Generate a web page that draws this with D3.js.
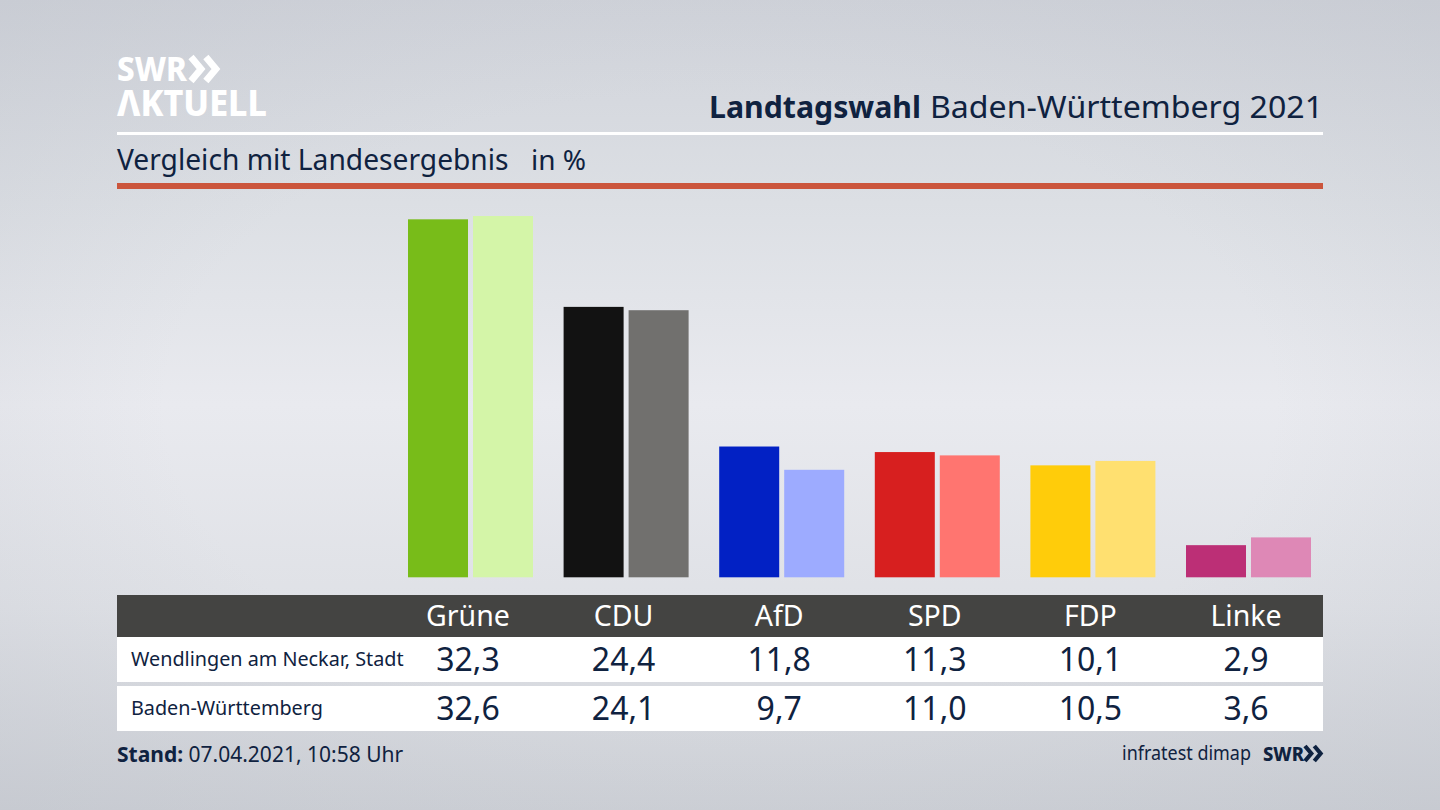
<!DOCTYPE html>
<html lang="de">
<head>
<meta charset="utf-8">
<title>Landtagswahl Baden-Württemberg 2021</title>
<script src="https://cdn.jsdelivr.net/npm/d3@7/dist/d3.min.js"></script>
<style>
  html, body { margin: 0; padding: 0; background: #d5d8de; }
  svg { display: block; }
  text { font-family: "Noto Sans", sans-serif; fill: #0f2240; }
</style>
</head>
<body>
<svg id="chart" width="1440" height="810"></svg>
<script>
// DATA
const parties = ["Grüne", "CDU", "AfD", "SPD", "FDP", "Linke"];
const localValues = [32.3, 24.4, 11.8, 11.3, 10.1, 2.9];
const stateValues = [32.6, 24.1, 9.7, 11.0, 10.5, 3.6];
const localColors = ["#78bc19", "#121212", "#0221c4", "#d71f1f", "#ffcc0a", "#bc2f76"];
const stateColors = ["#d4f5a8", "#71706e", "#9dabff", "#ff7570", "#ffe070", "#de88b6"];
const rowLabels = ["Wendlingen am Neckar, Stadt", "Baden-Württemberg"];

const fmt = v => v.toFixed(1).replace(".", ",");
const svg = d3.select("#chart");
const defs = svg.append("defs");

//---BACKGROUND
const bg = defs.append("linearGradient").attr("id", "bg").attr("x1", 0).attr("y1", 0).attr("x2", 0).attr("y2", 1);
bg.append("stop").attr("offset", "0%").attr("stop-color", "#d0d3da");
bg.append("stop").attr("offset", "25%").attr("stop-color", "#dcdfe4");
bg.append("stop").attr("offset", "50%").attr("stop-color", "#e9eaef");
bg.append("stop").attr("offset", "75%").attr("stop-color", "#dfe1e6");
bg.append("stop").attr("offset", "100%").attr("stop-color", "#cdd0d6");
svg.append("rect").attr("width", 1440).attr("height", 810).attr("fill", "url(#bg)");

// edges of the picture are a little darker than the middle
const vignette = defs.append("radialGradient").attr("id", "vignette").attr("cx", "50%").attr("cy", "50%").attr("r", "70%");
vignette.append("stop").attr("offset", "55%").attr("stop-color", "#b9bdc6").attr("stop-opacity", 0);
vignette.append("stop").attr("offset", "100%").attr("stop-color", "#b9bdc6").attr("stop-opacity", 0.3);
svg.append("rect").attr("width", 1440).attr("height", 810).attr("fill", "url(#vignette)");

//---HEADER
svg.append("text").attr("x", 117).attr("y", 81)
    .attr("font-size", 33).attr("font-weight", 800).style("fill", "#fff").attr("textLength", 70)
    .attr("lengthAdjust", "spacingAndGlyphs").text("SWR");
svg.append("text").attr("x", 117).attr("y", 116)
    .attr("font-size", 35).attr("font-weight", 800).style("fill", "#fff").attr("textLength", 150)
    .attr("lengthAdjust", "spacingAndGlyphs").text("ΛKTUELL");

function chevrons(x, y, s, color) {
    [0, 0.62].forEach(k => {
        svg.append("path")
            .attr("d", `M${x + k * s},${y} l${s * 0.42},${s * 0.5} l${-s * 0.42},${s * 0.5}`)
            .attr("fill", "none").attr("stroke", color).attr("stroke-width", s * 0.28);
    });
}
chevrons(191, 57, 24, "#fff");

svg.append("text").attr("x", 709).attr("y", 118).attr("font-size", 31).attr("font-weight", 700)
    .attr("textLength", 212).attr("lengthAdjust", "spacingAndGlyphs").text("Landtagswahl");
svg.append("text").attr("x", 930).attr("y", 118).attr("font-size", 31)
    .attr("textLength", 393).attr("lengthAdjust", "spacingAndGlyphs").text("Baden-Württemberg 2021");
svg.append("rect").attr("x", 117).attr("y", 132).attr("width", 1206).attr("height", 3).attr("fill", "#fff");
svg.append("text").attr("x", 117).attr("y", 170).attr("font-size", 28.2).text("Vergleich mit Landesergebnis");
svg.append("text").attr("x", 531).attr("y", 170).attr("font-size", 28).text("in %");
svg.append("rect").attr("x", 117).attr("y", 183).attr("width", 1206).attr("height", 6).attr("fill", "#cb553c");

//---BARS
const x = d3.scaleBand().domain(parties).range([390.2, 1323.8]).padding(0);
const y = d3.scaleLinear().domain([0, 32.6]).range([577.3, 216]);
const barWidth = 60;
const cx = p => x(p) + x.bandwidth() / 2;

const groups = svg.append("g").selectAll("g").data(parties).join("g");
groups.append("rect")
    .attr("x", p => cx(p) - barWidth)
    .attr("y", (p, i) => y(localValues[i]))
    .attr("width", barWidth)
    .attr("height", (p, i) => y(0) - y(localValues[i]))
    .attr("fill", (p, i) => localColors[i]);
groups.append("rect")
    .attr("x", p => cx(p) + 5)
    .attr("y", (p, i) => y(stateValues[i]))
    .attr("width", barWidth)
    .attr("height", (p, i) => y(0) - y(stateValues[i]))
    .attr("fill", (p, i) => stateColors[i]);

//---TABLE
svg.append("rect").attr("x", 117).attr("y", 595).attr("width", 1206).attr("height", 42).attr("fill", "#444442");
svg.append("rect").attr("x", 117).attr("y", 637).attr("width", 1206).attr("height", 45).attr("fill", "#fff");
svg.append("rect").attr("x", 117).attr("y", 686).attr("width", 1206).attr("height", 45).attr("fill", "#fff");

svg.append("g").selectAll("text").data(parties).join("text")
    .attr("x", cx).attr("y", 626).attr("text-anchor", "middle").attr("font-size", 28.5)
    .style("fill", "#fff").text(d => d);

[localValues, stateValues].forEach((vals, r) => {
    const rowY = [671, 720][r];
    svg.append("text").attr("x", 131).attr("y", rowY - 5).attr("font-size", 19.8).text(rowLabels[r]);
    svg.append("g").selectAll("text").data(vals).join("text")
        .attr("x", (d, i) => cx(parties[i])).attr("y", rowY).attr("text-anchor", "middle")
        .attr("font-size", 32).text(fmt);
});

//---FOOTER
svg.append("text").attr("x", 117).attr("y", 762).attr("font-size", 21)
    .call(t => t.append("tspan").attr("font-weight", 700).text("Stand:"))
    .call(t => t.append("tspan").text(" 07.04.2021, 10:58 Uhr"));
svg.append("text").attr("x", 1122).attr("y", 760).attr("font-size", 20)
    .attr("textLength", 129).attr("lengthAdjust", "spacingAndGlyphs").text("infratest dimap");
svg.append("text").attr("x", 1263).attr("y", 761).attr("font-size", 20).attr("font-weight", 800)
    .attr("textLength", 41).attr("lengthAdjust", "spacingAndGlyphs").text("SWR");
chevrons(1305, 746, 15, "#0f2240");
</script>
</body>
</html>
